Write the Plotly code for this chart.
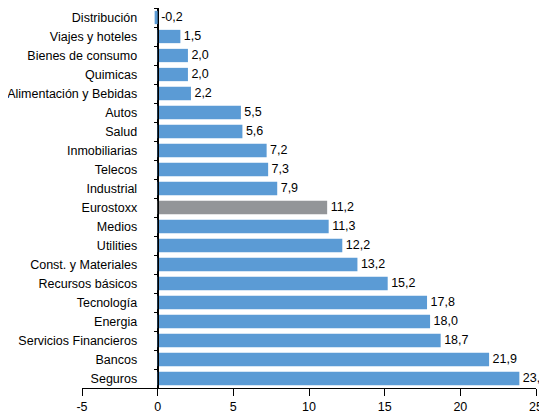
import plotly.graph_objects as go

categories = ["Distribución", "Viajes y hoteles", "Bienes de consumo", "Quimicas",
              "Alimentación y Bebidas", "Autos", "Salud", "Inmobiliarias", "Telecos",
              "Industrial", "Eurostoxx", "Medios", "Utilities", "Const. y Materiales",
              "Recursos básicos", "Tecnología", "Energia", "Servicios Financieros",
              "Bancos", "Seguros"]
values = [-0.2, 1.5, 2.0, 2.0, 2.2, 5.5, 5.6, 7.2, 7.3, 7.9, 11.2, 11.3, 12.2, 13.2,
          15.2, 17.8, 18.0, 18.7, 21.9, 23.9]
highlight = "Eurostoxx"
x_ticks = [-5, 0, 5, 10, 15, 20, 25]

BLUE = "#5B9BD5"
GRAY = "#939598"
colors = [GRAY if c == highlight else BLUE for c in categories]
labels = [" " + f"{v:.1f}".replace(".", ",") for v in values]
label_x = [max(v, 0) for v in values]

FONT = "Liberation Sans, Arial, sans-serif"
FS = 12.5

fig = go.Figure()
fig.add_trace(go.Bar(
    y=categories, x=values, orientation="h",
    marker=dict(color=colors, line=dict(width=0)),
    width=0.7, hoverinfo="skip",
))
fig.add_trace(go.Scatter(
    y=categories, x=label_x, mode="text", text=labels,
    textposition="middle right",
    textfont=dict(family=FONT, size=FS, color="black"),
    cliponaxis=False, hoverinfo="skip",
))

W, H = 544, 406
L, R, T, B = 74, 16, 0, 26
PW = W - L - R

fig.update_layout(
    width=W, height=H,
    margin=dict(l=L, r=R, t=T, b=B, pad=0, autoexpand=False),
    paper_bgcolor="white", plot_bgcolor="white",
    showlegend=False,
    font=dict(family=FONT, size=FS, color="black"),
    xaxis=dict(
        range=[-5, 25], tickvals=x_ticks,
        ticktext=[str(t) for t in x_ticks],
        showgrid=False, zeroline=True, zerolinecolor="black", zerolinewidth=1,
        showline=True, linecolor="black", linewidth=1,
        ticks="outside", ticklen=7, tickcolor="black", tickwidth=1,
        tickfont=dict(family=FONT, size=FS, color="black"),
        automargin=False, fixedrange=True,
    ),
    yaxis=dict(
        categoryorder="array", categoryarray=categories,
        range=[19.5, -0.5],
        anchor="free", position=5 / 30,
        showgrid=False, zeroline=False,
        showline=True, linecolor="black", linewidth=1,
        ticks="outside", ticklen=4, tickcolor="black", tickwidth=1,
        tickson="boundaries",
        ticklabelstandoff=18,
        tickfont=dict(family=FONT, size=FS, color="black"),
        automargin=False, fixedrange=True,
    ),
    shapes=[dict(
        type="rect", xref="paper", yref="paper",
        x0=(531 - L) / PW, x1=1.2, y0=-0.2, y1=1.1,
        fillcolor="white", line=dict(width=0), layer="above",
    )],
)

fig.write_html("out.html")
